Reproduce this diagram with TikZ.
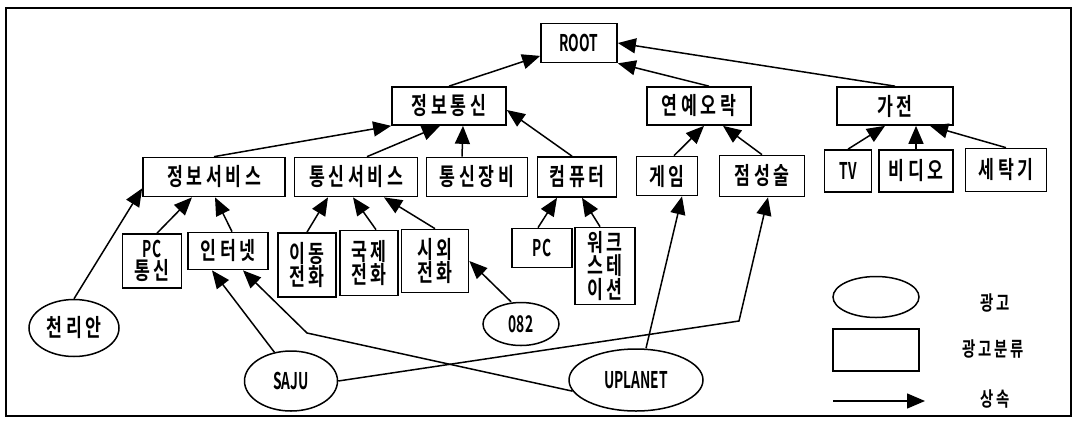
\documentclass[tikz,border=0pt]{standalone}
\usepackage{fontspec}
\usetikzlibrary{arrows.meta,shapes.geometric}
\newfontfamily\krfont{Noto Sans CJK KR Bold}[FakeStretch=0.72, LetterSpace=15]
\newfontfamily\enfont{Noto Sans CJK KR Bold}[FakeStretch=0.6]
\newcommand\krtext{\krfont\fontsize{24}{22}\selectfont}
\newcommand\lgtext{\krfont\fontsize{20}{22}\selectfont}
\newcommand\lat{\enfont\fontsize{23}{22}\selectfont}
\tikzset{
  cat/.style={draw, line width=1.7pt, inner sep=0pt, align=center, font=\krtext},
  ad/.style={draw, ellipse, line width=1.5pt, inner sep=0pt, font=\krtext},
  inh/.style={line width=1.5pt, -{Triangle[length=18pt,width=15pt]}},
}
\begin{document}
\begin{tikzpicture}[x=1pt,y=-1pt]
\useasboundingbox (0,0) rectangle (1077,424);
% frame
\draw[line width=1.3pt] (6,8) rectangle (1071,416);
% Category boxes: {name, x, y, width, height, text}
\foreach \nm/\cx/\cy/\w/\h/\txt in {
  root/579/43/76/39/{\lat ROOT},
  jt/449/106/114/38/정보통신,
  ye/699/106/104/38/연예오락,
  gj/895/106/116/38/가전,
  js/214/177/142/39/정보서비스,
  ts/356/177/123/39/통신서비스,
  tj/477/177/101/39/통신장비,
  cp/577/177/79/40/컴퓨터,
  gm/667/176/61/39/게임,
  jss/762/176/85/41/점성술,
  tv/848/171/47/42/{\lat TV},
  vd/916/171/74/42/비디오,
  wm/1006/170/81/43/세탁기,
  pcc/152/261/59/54/{{\lat PC}\\통신},
  inet/228/251/80/37/인터넷,
  mob/307/265/58/64/{이동\\전화},
  intl/369/263/58/65/{국제\\전화},
  dom/435/261/67/63/{시외\\전화},
  pc/542/248/60/39/{\lat PC},
  ws/605/266/60/77/{워크\\스테\\이션}%
} {
  \node[cat, minimum width=\w pt, minimum height=\h pt] (\nm) at (\cx,\cy) {\txt};
}
% Ads
\node[ad, minimum width=90pt, minimum height=57pt] (cl) at (74,328) {천리안};
\node[ad, minimum width=76pt, minimum height=43pt] (o82) at (521,324) {\lat 082};
\node[ad, minimum width=93pt, minimum height=60pt] (saju) at (291,381) {\lat SAJU};
\node[ad, minimum width=134pt, minimum height=62pt] (upl) at (636,380) {\lat UPLANET};
% bends
\coordinate (sjbend) at (739,321);
\coordinate (upbend) at (307,333);
% Inheritance
\draw[inh] (jt.north) -- (root);
\draw[inh] ([xshift=10pt]ye.north) -- (root.south east);
\draw[inh] (gj.north) -- (root.east);
\draw[inh] (js.north) -- (jt.south west);
\draw[inh] ([xshift=11pt]ts.north) -- ([xshift=-9pt]jt.south);
\draw[inh] ([xshift=-15pt]tj.north) -- ([xshift=14pt]jt.south);
\draw[inh] ([xshift=-5pt]cp.north) -- ([yshift=-4pt]jt.east);
\draw[inh] ([xshift=7pt]gm.north) -- ([xshift=5pt]ye.south);
\draw[inh] (jss.north) -- ([xshift=24pt]ye.south);
\draw[inh] (tv.north) -- ([xshift=-10pt]gj.south);
\draw[inh] (vd.north) -- (vd.north |- gj.south);
\draw[inh] (wm.north) -- ([xshift=35pt]gj.south);
\draw[inh] (cl.north) -- ([yshift=9pt]js.south west);
\draw[inh] ([xshift=5pt]pcc.north) -- ([xshift=-22pt]js.south);
\draw[inh] ([xshift=4pt]inet.north) -- ([xshift=1pt]js.south);
\draw[inh] (mob.north) -- ([xshift=-28pt]ts.south);
\draw[inh] ([xshift=7pt]intl.north) -- ([xshift=-3pt]ts.south);
\draw[inh] (dom.north) -- ([xshift=28pt]ts.south);
\draw[inh] ([xshift=-4pt]pc.north) -- ([xshift=-20pt]cp.south);
\draw[inh] ([xshift=-5pt]ws.north) -- ([xshift=5pt]cp.south);
\draw[inh] ([xshift=-10pt]o82.north) -- (dom.east);
\draw[inh] (saju.120) -- ([xshift=-16pt]inet.south);
\draw[inh] (saju.east) -- (sjbend) -- ([xshift=6pt]jss.south);
\draw[inh] (upl.190) -- (upbend) -- ([xshift=15pt]inet.south);
\draw[inh] ([xshift=10pt]upl.north) -- ([xshift=15pt]gm.south);
% Legend
\node[ad, minimum width=86pt, minimum height=41pt] (lgad) at (876,297) {};
\node[cat, minimum width=86pt, minimum height=42pt] (lgcat) at (876,350) {};
\coordinate (lgA) at (833,401);
\coordinate (lgB) at (925,401);
\draw[inh] (lgA) -- (lgB);
\node[font=\lgtext] (lgadtx) at (995,303) {광고};
\node[font=\lgtext] (lgcattx) at (993,349) {광고분류};
\node[font=\lgtext] (lginhtx) at (995,399) {상속};
\end{tikzpicture}
\end{document}
